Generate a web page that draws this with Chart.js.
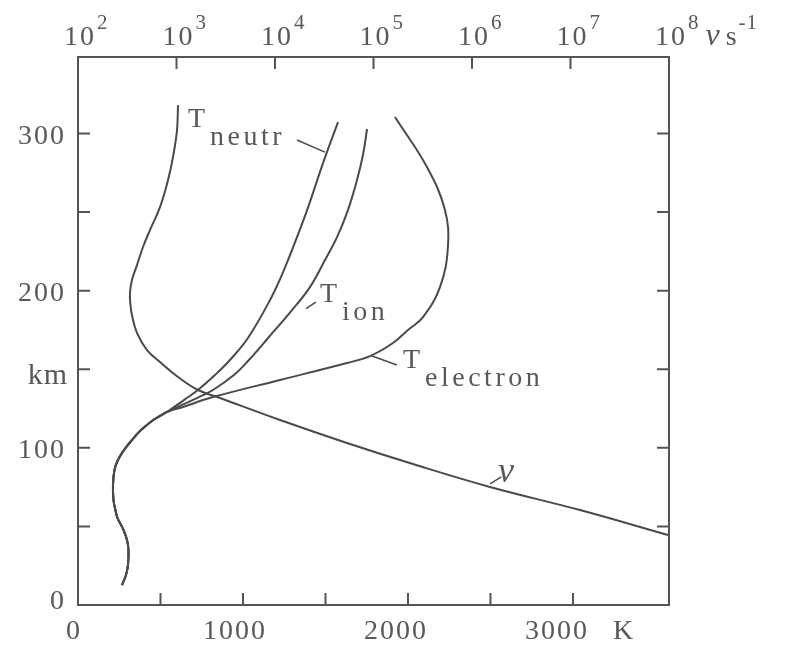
<!DOCTYPE html>
<html><head><meta charset="utf-8">
<script src="https://cdn.jsdelivr.net/npm/chart.js@4/dist/chart.umd.min.js"></script>
<style>html,body{margin:0;padding:0;background:#fff;}#wrap{width:787px;height:646px;position:relative;}</style>
</head><body><div id="wrap"><canvas id="c"></canvas></div>
<script>
// ---- tick data ----
const tempTicks = [500, 1000, 1500, 2000, 2500, 3000];
const tempLabels = [0, 1000, 2000, 3000];
const kmTicks = [50, 100, 150, 200, 250, 300];
const kmLabels = ['0', '100', 'km', '200', '300'];
const kmLabelValues = [0, 100, 150, 200, 300];
const nuExponents = [2, 3, 4, 5, 6, 7, 8];

// ---- series: common lower part of the temperature profiles (K, km) ----
const trunkT  = [267, 291, 303, 306, 297, 276, 258, 239, 227, 215, 212, 221, 242, 279, 327, 382, 448, 497];
const trunkKm = [12.7, 19.1, 25.5, 35.0, 41.4, 47.7, 51.5, 55.4, 60.4, 66.8, 76.4, 85.9, 92.3, 98.6, 105, 111.3, 117.1, 120.3];
// neutral temperature (above the common part)
const neutrT  = [539, 642, 727, 830, 921, 1030, 1164, 1248, 1382, 1485, 1576];
const neutrKm = [122.8, 130.4, 136.8, 146.3, 155.9, 169.9, 194.1, 213.1, 249.4, 281.2, 307.3];
// ion temperature
const ionT  = [539, 630, 721, 818, 945, 1036, 1152, 1297, 1406, 1497, 1570, 1636, 1691, 1727, 1752];
const ionKm = [122.8, 127.3, 131.7, 136.8, 146.3, 155.9, 169.9, 187.7, 202.3, 219.5, 234.1, 251.3, 270.4, 286.3, 302.9];
// electron temperature
const elecT  = [539, 636, 818, 1224, 1630, 1770, 1909, 2000, 2091, 2194, 2242, 2224, 2115, 1921];
const elecKm = [122.8, 126, 132.3, 143.2, 154, 158.4, 166.7, 175, 183.2, 202.3, 227.8, 251.3, 278.7, 310.5];
// collision frequency nu (s^-1)
const nuVal = [1036, 1012, 921, 820, 680, 538, 457, 397, 353, 337, 341, 353, 397, 502, 680, 1036, 1654, 2765, 11240, 53830, 251800, 1523000, 12490000, 97700000];
const nuKm  = [318.1, 302.2, 285.0, 270.4, 253.2, 238.6, 227.8, 216.3, 206.8, 198.5, 190.9, 184.5, 173.1, 162.2, 154.6, 145.1, 136.8, 131.7, 117.7, 103.1, 89.7, 75.1, 60.4, 44.5];

// ---- annotations (data units) ----
const curveLabels = [
  {main: 'T', sub: 'neutr',    t: 667,  km: 304.1, lead: [1327, 295.9, 1497, 288.2]},
  {main: 'T', sub: 'ion',      t: 1467, km: 192.8, lead: [1442, 192.8, 1382, 188.6]},
  {main: 'T', sub: 'electron', t: 1970, km: 150.8, lead: [1933, 152.7, 1782, 158.4]}
];
const nuLabel = {t: 2545, km: 78.3, lead: [2497, 77, 2566, 81.6]};

const LINE = '#4a4a4a', AXIS = '#545454', TEXT = '#595959';
const FONT = '"Liberation Serif", "Times New Roman", serif';
const TL = 12;

const zip = (xs, ys) => xs.map((v, i) => ({x: v, y: ys[i]}));
const ds = (xs, ys, axis) => ({
  data: zip(xs, ys), xAxisID: axis || 'x', yAxisID: 'y',
  borderColor: LINE, borderWidth: 2, pointRadius: 0, pointHoverRadius: 0,
  tension: 0.4, fill: false
});

function setFont(c, size, spacing, style) {
  c.font = (style ? style + ' ' : '') + size + 'px ' + FONT;
  try { c.letterSpacing = (spacing || 0) + 'px'; } catch (e) {}
}

const axesPlugin = {
  id: 'axesPlugin',
  beforeDraw(chart) {
    const c = chart.ctx; c.save(); c.fillStyle = '#ffffff'; c.fillRect(0, 0, chart.width, chart.height); c.restore();
  },
  beforeDatasetsDraw(chart) {
    const c = chart.ctx, a = chart.chartArea, x = chart.scales.x, y = chart.scales.y, nu = chart.scales.nu;
    c.save();
    c.strokeStyle = AXIS; c.lineWidth = 2;
    c.strokeRect(a.left, a.top, a.right - a.left, a.bottom - a.top);
    c.beginPath();
    tempTicks.forEach(v => { const p = x.getPixelForValue(v); c.moveTo(p, a.bottom); c.lineTo(p, a.bottom - TL); });
    kmTicks.forEach(v => { const p = y.getPixelForValue(v);
      c.moveTo(a.left, p); c.lineTo(a.left + TL, p); c.moveTo(a.right, p); c.lineTo(a.right - TL, p); });
    nuExponents.slice(1, -1).forEach(e => { const p = nu.getPixelForValue(Math.pow(10, e)); c.moveTo(p, a.top); c.lineTo(p, a.top + TL); });
    c.stroke();
    c.restore();
  },
  afterDraw(chart) {
    const c = chart.ctx, a = chart.chartArea, x = chart.scales.x, y = chart.scales.y, nu = chart.scales.nu;
    c.save();
    c.fillStyle = TEXT;
    // left labels
    c.textAlign = 'right'; c.textBaseline = 'middle';
    kmLabels.forEach((t, i) => {
      const p = y.getPixelForValue(kmLabelValues[i]);
      if (t === 'km') { setFont(c, 30, 1); c.fillText(t, a.left - 10, p + 7); }
      else { setFont(c, 28, 2); c.fillText(t, a.left - 12, p + (kmLabelValues[i] === 0 ? -3 : 3)); }
    });
    // bottom labels
    c.textAlign = 'center'; c.textBaseline = 'middle';
    setFont(c, 28, 2);
    tempLabels.forEach(v => {
      const p = x.getPixelForValue(v) - 4 - v / 250;
      c.fillText(String(v), p, a.bottom + 27);
      if (v === tempLabels[tempLabels.length - 1]) {
        const w = c.measureText(String(v)).width;
        c.textAlign = 'left'; c.fillText('K', p + w / 2 + 24, a.bottom + 27); c.textAlign = 'center';
      }
    });
    // top labels
    c.textBaseline = 'alphabetic';
    let lastEnd = 0;
    nuExponents.forEach(e => {
      const p = nu.getPixelForValue(Math.pow(10, e));
      setFont(c, 28, 2); c.textAlign = 'center';
      const w = c.measureText('10').width;
      c.fillText('10', p + 2, 45);
      setFont(c, 21, 0); c.textAlign = 'left';
      c.fillText(String(e), p + 2 + w / 2 + 1, 29);
      lastEnd = p + 2 + w / 2 + 1 + c.measureText(String(e)).width;
    });
    c.textAlign = 'left';
    setFont(c, 32, 0, 'italic');
    c.fillText('\u03bd', lastEnd + 7, 45);
    const nw = c.measureText('\u03bd').width;
    setFont(c, 28, 0);
    c.fillText('s', lastEnd + 7 + nw + 6, 45);
    const sw = c.measureText('s').width;
    setFont(c, 21, 1);
    c.fillText('-1', lastEnd + 7 + nw + 6 + sw + 2, 29);
    // curve labels
    c.strokeStyle = LINE; c.lineWidth = 1.5;
    curveLabels.forEach(l => {
      const px = x.getPixelForValue(l.t), py = y.getPixelForValue(l.km);
      setFont(c, 28, 0);
      c.fillText(l.main, px, py);
      setFont(c, 28, 3.5);
      c.fillText(l.sub, px + 22, py + 18);
      c.beginPath();
      c.moveTo(x.getPixelForValue(l.lead[0]), y.getPixelForValue(l.lead[1]));
      c.lineTo(x.getPixelForValue(l.lead[2]), y.getPixelForValue(l.lead[3]));
      c.stroke();
    });
    setFont(c, 36, 0, 'italic');
    c.fillText('\u03bd', x.getPixelForValue(nuLabel.t), y.getPixelForValue(nuLabel.km));
    c.beginPath();
    c.moveTo(x.getPixelForValue(nuLabel.lead[0]), y.getPixelForValue(nuLabel.lead[1]));
    c.lineTo(x.getPixelForValue(nuLabel.lead[2]), y.getPixelForValue(nuLabel.lead[3]));
    c.stroke();
    c.restore();
  }
};

new Chart(document.getElementById('c'), {
  type: 'line',
  data: {
    datasets: [
      ds(trunkT.concat(neutrT), trunkKm.concat(neutrKm)),
      ds(trunkT.concat(ionT), trunkKm.concat(ionKm)),
      ds(trunkT.concat(elecT), trunkKm.concat(elecKm)),
      ds(nuVal, nuKm, 'nu')
    ]
  },
  options: {
    indexAxis: 'y',
    responsive: true, maintainAspectRatio: false, animation: false,
    layout: {padding: {left: 78, right: 118, top: 57, bottom: 41}},
    plugins: {legend: {display: false}, tooltip: {enabled: false}},
    scales: {
      x: {type: 'linear', position: 'bottom', min: 0, max: 3582, display: false},
      nu: {type: 'logarithmic', position: 'top', min: 100, max: 1e8, display: false},
      y: {type: 'linear', position: 'left', min: 0, max: 348.7, display: false}
    }
  },
  plugins: [axesPlugin]
});
</script>
</body></html>
